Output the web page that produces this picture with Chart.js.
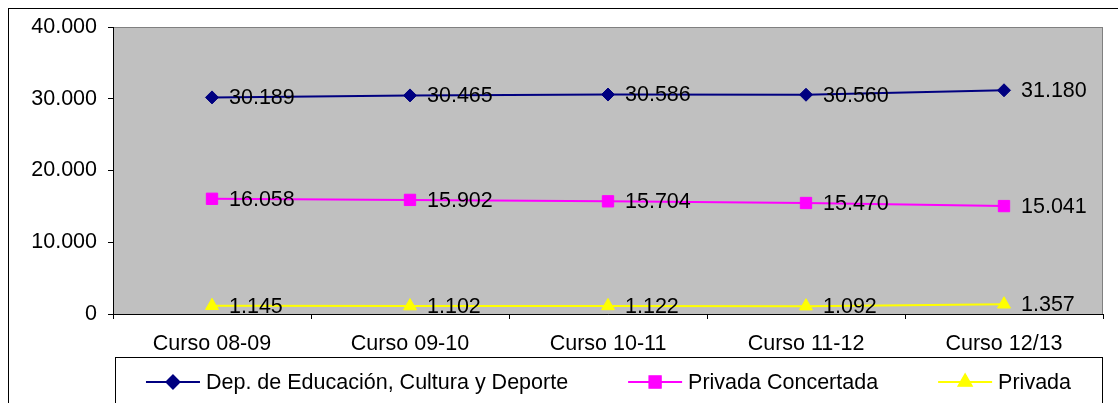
<!DOCTYPE html>
<html>
<head>
<meta charset="utf-8">
<script src="https://cdn.jsdelivr.net/npm/chart.js@4/dist/chart.umd.min.js"></script>
<style>
  html, body { margin: 0; padding: 0; background: #fff; }
  canvas { display: block; }
</style>
</head>
<body>
<canvas id="chart" width="1118" height="403"></canvas>
<script>
const cursos = ["Curso 08-09", "Curso 09-10", "Curso 10-11", "Curso 11-12", "Curso 12/13"]
const depEducacion = [30189, 30465, 30586, 30560, 31180]
const privadaConcertada = [16058, 15902, 15704, 15470, 15041]
const privada = [1145, 1102, 1122, 1092, 1357]
const yTicks = [0, 10000, 20000, 30000, 40000]

const FONT = "'Liberation Sans', Arial, sans-serif"
const FSIZE = 21.5

// 30189 -> "30.189"
function fmt(v) {
    return String(v).replace(/\B(?=(\d{3})+(?!\d))/g, ".")
}

// grey plot area + outer frame
const background = {
    id: "background",
    beforeDraw(chart) {
        const ctx = chart.ctx
        const a = chart.chartArea
        ctx.save()
        ctx.strokeStyle = "#000"
        ctx.lineWidth = 1
        ctx.strokeRect(8.5, 8.5, 1300, 600)
        ctx.fillStyle = "#c0c0c0"
        ctx.fillRect(a.left, a.top, a.right - a.left, a.bottom - a.top)
        ctx.strokeStyle = "#808080"
        ctx.strokeRect(a.left + 0.5, a.top + 0.5, a.right - a.left - 1, a.bottom - a.top)
        ctx.restore()
    }
}

// value next to every point
const valueLabels = {
    id: "valueLabels",
    afterDatasetsDraw(chart) {
        const ctx = chart.ctx
        ctx.save()
        ctx.font = FSIZE + "px " + FONT
        ctx.fillStyle = "#000"
        ctx.textAlign = "left"
        ctx.textBaseline = "middle"
        chart.data.datasets.forEach((ds, i) => {
            chart.getDatasetMeta(i).data.forEach((pt, j) => {
                ctx.fillText(fmt(ds.data[j]), pt.x + 17, pt.y + 1)
            })
        })
        ctx.restore()
    }
}

// legend box at the bottom, line + marker + text
const boxLegend = {
    id: "boxLegend",
    afterDraw(chart) {
        const ctx = chart.ctx
        const boxL = 115, boxR = 1102, boxT = 357
        const rowY = 382
        const sample = 54, textGap = 6, itemGap = 60
        ctx.save()
        ctx.strokeStyle = "#000"
        ctx.lineWidth = 1
        ctx.strokeRect(boxL + 0.5, boxT + 0.5, boxR - boxL, 200)
        ctx.font = FSIZE + "px " + FONT
        const ds = chart.data.datasets
        const widths = ds.map(d => sample + textGap + ctx.measureText(d.label).width)
        const total = widths.reduce((s, w) => s + w, 0) + itemGap * (ds.length - 1)
        let x = (boxL + boxR) / 2 - total / 2
        ds.forEach((d, i) => {
            ctx.strokeStyle = d.borderColor
            ctx.lineWidth = 2
            ctx.beginPath()
            ctx.moveTo(x, rowY)
            ctx.lineTo(x + sample, rowY)
            ctx.stroke()
            Chart.helpers.drawPoint(ctx, {
                pointStyle: d.pointStyle,
                radius: d.pointRadius,
                rotation: 0,
                borderWidth: 1
            }, x + sample / 2, rowY)
            ctx.fillStyle = d.pointBackgroundColor
            ctx.strokeStyle = d.pointBorderColor
            ctx.lineWidth = 1
            ctx.fill()
            ctx.stroke()
            ctx.fillStyle = "#000"
            ctx.textAlign = "left"
            ctx.textBaseline = "middle"
            ctx.fillText(d.label, x + sample + textGap, rowY + 1)
            x += widths[i] + itemGap
        })
        ctx.restore()
    }
}

function series(label, data, color, style, radius) {
    return {
        label: label,
        data: data,
        borderColor: color,
        backgroundColor: color,
        pointBackgroundColor: color,
        pointBorderColor: color,
        borderWidth: 2,
        pointStyle: style,
        pointRadius: radius,
        pointHoverRadius: radius,
        pointBorderWidth: 1,
        tension: 0,
        fill: false
    }
}

const ctx = document.getElementById("chart").getContext("2d")

const myChart = new Chart(ctx, {
    type: "line",
    data: {
        labels: cursos,
        datasets: [
            series("Dep. de Educación, Cultura y Deporte", depEducacion, "#000080", "rectRot", 6.5),
            series("Privada Concertada", privadaConcertada, "#ff00ff", "rect", 8),
            series("Privada", privada, "#ffff00", "triangle", 7.5)
        ]
    },
    plugins: [background, valueLabels, boxLegend],
    options: {
        responsive: false,
        animation: false,
        devicePixelRatio: 1,
        layout: {
            padding: { left: 0, top: 27, right: 15, bottom: 0 }
        },
        plugins: {
            legend: { display: false },
            tooltip: { enabled: false }
        },
        scales: {
            x: {
                type: "category",
                offset: true,
                afterFit: s => { s.height = 89 },
                grid: {
                    offset: true,
                    drawOnChartArea: false,
                    drawTicks: true,
                    tickLength: 5,
                    tickColor: "#000"
                },
                border: { display: true, color: "#000", width: 1 },
                ticks: {
                    color: "#000",
                    padding: 12,
                    maxRotation: 0,
                    font: { family: FONT, size: FSIZE }
                }
            },
            y: {
                min: 0,
                max: 40000,
                afterFit: s => { s.width = 113 },
                afterBuildTicks: s => { s.ticks = yTicks.map(v => ({ value: v })) },
                grid: {
                    drawOnChartArea: false,
                    drawTicks: true,
                    tickLength: 5,
                    tickColor: "#000"
                },
                border: { display: true, color: "#000", width: 1 },
                ticks: {
                    color: "#000",
                    padding: 11,
                    font: { family: FONT, size: FSIZE },
                    callback: v => fmt(v)
                }
            }
        }
    }
})
</script>
</body>
</html>
